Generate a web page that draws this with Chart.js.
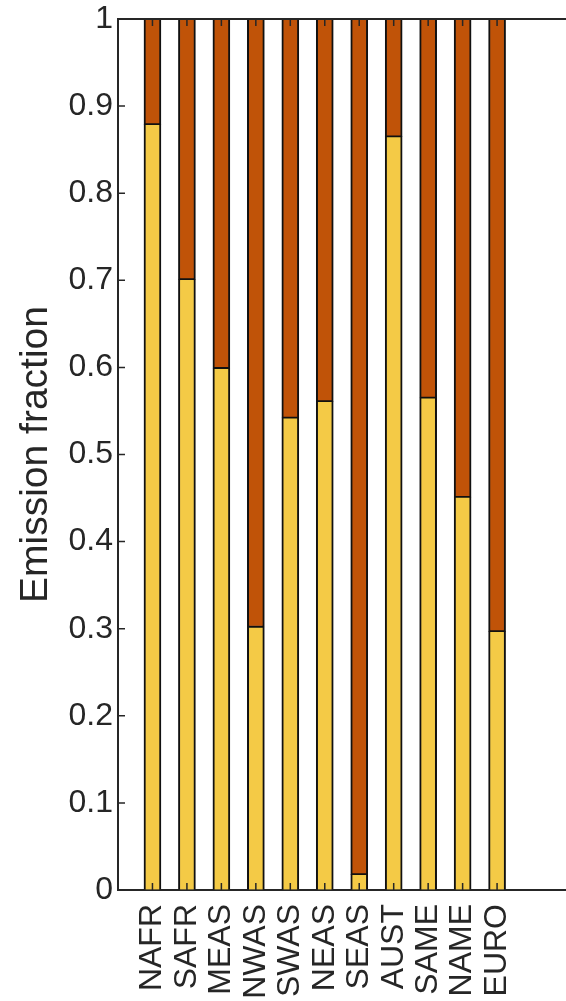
<!DOCTYPE html>
<html>
<head>
<meta charset="utf-8">
<script src="https://cdn.jsdelivr.net/npm/chart.js@4/dist/chart.umd.min.js"></script>
<style>
  html, body { margin: 0; padding: 0; background: #ffffff; }
  #wrap { width: 566px; height: 1001px; }
</style>
</head>
<body>
<div id="wrap"><canvas id="c" width="566" height="1001"></canvas></div>
<script>
const categories = ['NAFR', 'SAFR', 'MEAS', 'NWAS', 'SWAS', 'NEAS', 'SEAS', 'AUST', 'SAME', 'NAME', 'EURO'];
const lowerFraction = [0.879, 0.701, 0.599, 0.302, 0.542, 0.561, 0.018, 0.865, 0.565, 0.451, 0.297];
const upperFraction = [0.121, 0.299, 0.401, 0.698, 0.458, 0.439, 0.982, 0.135, 0.435, 0.549, 0.703];
const yTickLabels = ['0', '0.1', '0.2', '0.3', '0.4', '0.5', '0.6', '0.7', '0.8', '0.9', '1'];
const yTitle = 'Emission fraction';

// axis padded with empty slots so the categories sit where the original axis limits put them
const paddedLabels = [''].concat(categories, ['', '']);
const pad = arr => [null].concat(arr, [null, null]);

const ink = '#262626';

const inwardTicks = {
  id: 'inwardTicks',
  afterDatasetsDraw(chart) {
    const { ctx, chartArea: a, scales: { x, y } } = chart;
    ctx.save();
    ctx.strokeStyle = ink;
    ctx.lineWidth = 1.5;
    ctx.beginPath();
    y.ticks.forEach((t, i) => {
      const py = y.getPixelForTick(i);
      ctx.moveTo(a.left, py);
      ctx.lineTo(a.left + 7, py);
    });
    categories.forEach((c, i) => {
      const px = x.getPixelForValue(i + 1);
      ctx.moveTo(px, a.bottom);
      ctx.lineTo(px, a.bottom - 7);
      ctx.moveTo(px, a.top);
      ctx.lineTo(px, a.top + 7);
    });
    ctx.stroke();
    ctx.lineWidth = 2;
    ctx.beginPath();
    ctx.moveTo(a.left - 1, a.top);
    ctx.lineTo(a.right, a.top);
    ctx.stroke();
    ctx.restore();
  }
};

new Chart(document.getElementById('c'), {
  type: 'bar',
  data: {
    labels: paddedLabels,
    datasets: [
      {
        label: 'lower',
        data: pad(lowerFraction),
        backgroundColor: '#F4CA46',
        borderColor: '#111111',
        borderWidth: { left: 2, right: 2, top: 1, bottom: 0 },
        borderSkipped: false,
        barThickness: 17
      },
      {
        label: 'upper',
        data: pad(upperFraction),
        backgroundColor: '#C05308',
        borderColor: '#111111',
        borderWidth: { left: 2, right: 2, top: 0, bottom: 1.5 },
        borderSkipped: false,
        barThickness: 17
      }
    ]
  },
  options: {
    responsive: false,
    animation: false,
    devicePixelRatio: 1,
    layout: { padding: { top: 19, right: 0, left: 0, bottom: 0 } },
    plugins: { legend: { display: false }, tooltip: { enabled: false } },
    scales: {
      x: {
        stacked: true,
        offset: false,
        grid: { display: true, drawOnChartArea: false, drawTicks: false },
        border: { display: true, color: ink, width: 2 },
        ticks: {
          autoSkip: false,
          maxRotation: 90,
          minRotation: 90,
          padding: 14,
          color: ink,
          font: { family: 'Liberation Sans, Arial, sans-serif', size: 32 }
        },
        afterFit(scale) {
          scale.height = 111;
          scale.paddingLeft = 0;
          scale.paddingRight = 0;
        }
      },
      y: {
        stacked: true,
        min: 0,
        max: 1,
        grid: { display: true, drawOnChartArea: false, drawTicks: false },
        border: { display: true, color: ink, width: 2 },
        ticks: {
          stepSize: 0.1,
          padding: 5,
          color: ink,
          font: { family: 'Liberation Sans, Arial, sans-serif', size: 32 },
          callback: (v, i) => yTickLabels[i]
        },
        title: {
          display: true,
          text: yTitle,
          color: ink,
          padding: { top: 13, bottom: 0 },
          font: { family: 'Liberation Sans, Arial, sans-serif', size: 39 }
        },
        afterFit(scale) {
          scale.width = 118;
          scale.paddingTop = 0;
          scale.paddingBottom = 0;
        }
      }
    }
  },
  plugins: [inwardTicks]
});
</script>
</body>
</html>
